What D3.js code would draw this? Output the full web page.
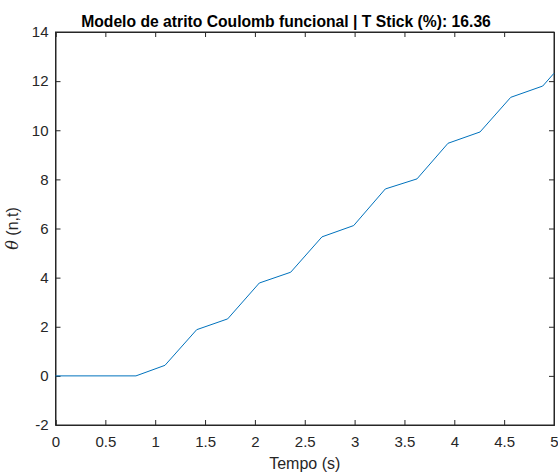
<!DOCTYPE html>
<html>
<head>
<meta charset="utf-8">
<script src="https://cdn.jsdelivr.net/npm/d3@7"></script>
<style>
  html, body { margin: 0; padding: 0; background: #fff; }
  svg { display: block; font-family: "Liberation Sans", Arial, Helvetica, sans-serif; }
</style>
</head>
<body>
<svg id="chart" width="558" height="474"></svg>
<script>
// Data
const timeValues  = [0, 0.807, 1.098, 1.416, 1.727, 2.044, 2.359, 2.673, 2.991, 3.308, 3.626, 3.937, 4.258, 4.566, 4.887, 5.0];
const thetaValues = [0, 0, 0.43, 1.88, 2.32, 3.78, 4.22, 5.66, 6.12, 7.61, 8.02, 9.47, 9.93, 11.34, 11.80, 12.32];
const xTicks = [0, 0.5, 1, 1.5, 2, 2.5, 3, 3.5, 4, 4.5, 5];
const yTicks = [-2, 0, 2, 4, 6, 8, 10, 12, 14];
const titleText = "Modelo de atrito Coulomb funcional | T Stick (%): 16.36";
const xLabelText = "Tempo (s)";

(function () {
const svg = d3.select("#chart");
const mLeft = 55.5, mRight = 554, mTop = 32, mBottom = 425;
const axisColor = "#262626";

const x = d3.scaleLinear().domain([0, 5]).range([mLeft, mRight]);
const y = d3.scaleLinear().domain([-2, 14]).range([mBottom, mTop]);

svg.append("rect")
  .attr("x", mLeft).attr("y", mTop)
  .attr("width", mRight - mLeft).attr("height", mBottom - mTop)
  .attr("fill", "#fff").attr("stroke", axisColor).attr("stroke-width", 1);

const tickLen = 5;
const fmt = d => String(d);

const gx = svg.append("g").attr("transform", `translate(0,${mBottom})`)
  .call(d3.axisBottom(x).tickValues(xTicks).tickFormat(fmt).tickSize(-tickLen).tickPadding(11));
const gxt = svg.append("g").attr("transform", `translate(0,${mTop})`)
  .call(d3.axisTop(x).tickValues(xTicks).tickFormat("").tickSize(-tickLen));
const gy = svg.append("g").attr("transform", `translate(${mLeft},0)`)
  .call(d3.axisLeft(y).tickValues(yTicks).tickFormat(fmt).tickSize(-tickLen).tickPadding(7));
const gyr = svg.append("g").attr("transform", `translate(${mRight},0)`)
  .call(d3.axisRight(y).tickValues(yTicks).tickFormat("").tickSize(-tickLen));

[gx, gxt, gy, gyr].forEach(g => {
  g.select(".domain").attr("stroke", axisColor).attr("stroke-width", 1);
  g.selectAll(".tick line").attr("stroke", axisColor).attr("stroke-width", 1);
  g.selectAll(".tick text").attr("fill", axisColor).attr("font-size", 15)
    .attr("font-family", "Liberation Sans, Arial, sans-serif");
});

const line = d3.line().x((d, i) => x(timeValues[i])).y(d => y(d));
svg.append("path")
  .datum(thetaValues)
  .attr("d", line)
  .attr("fill", "none")
  .attr("stroke", "#0072BD")
  .attr("stroke-width", 1);

svg.append("text")
  .attr("x", 286).attr("y", 26.5)
  .attr("text-anchor", "middle")
  .attr("font-size", 15.7).attr("font-weight", "bold").attr("fill", "#000")
  .text(titleText);

svg.append("text")
  .attr("x", (mLeft + mRight) / 2).attr("y", 468.5)
  .attr("text-anchor", "middle")
  .attr("font-size", 16).attr("fill", axisColor)
  .text(xLabelText);

const yl = svg.append("text")
  .attr("transform", `translate(18,${(mTop + mBottom) / 2}) rotate(-90)`)
  .attr("text-anchor", "middle")
  .attr("font-size", 16).attr("fill", axisColor);
yl.append("tspan").attr("font-style", "italic").attr("font-family", "DejaVu Serif, Liberation Serif, serif").text("θ");
yl.append("tspan").text(" (n,t)");
})();
</script>
</body>
</html>
